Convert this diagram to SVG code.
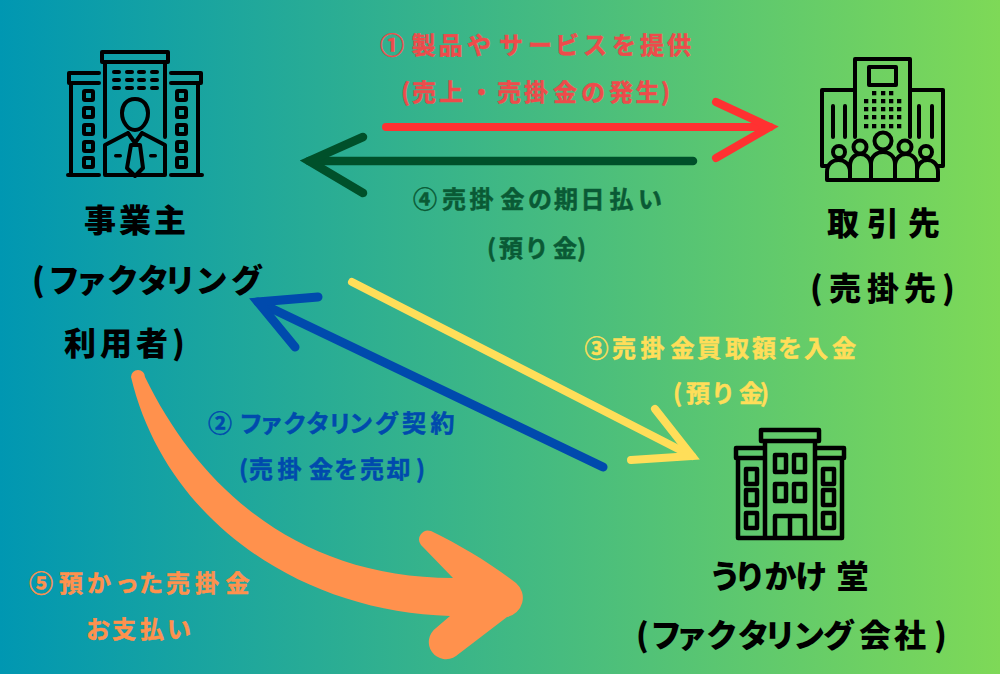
<svg xmlns="http://www.w3.org/2000/svg" width="1000" height="674" viewBox="0 0 1000 674">
<defs><linearGradient id="bg" x1="0" y1="0" x2="1" y2="0"><stop offset="0" stop-color="#0097b2"/><stop offset="1" stop-color="#7ed957"/></linearGradient></defs>
<style>
text{font-family:"Noto Sans CJK JP","Noto Sans CJK SC",sans-serif;font-weight:900}
.b{font-size:32px;fill:#000}
.l{font-size:24px;font-weight:700;stroke-width:.5px}
.r{fill:#ee4b4b;stroke:#ee4b4b}.g{fill:#0a5a35;stroke:#0a5a35}.y{fill:#ffde59;stroke:#ffde59}.u{fill:#004aad;stroke:#004aad}.o{fill:#ff914d;stroke:#ff914d}
.ar{fill:none;stroke-linecap:round;stroke-linejoin:miter;stroke-miterlimit:8}
.ic{fill:none;stroke:#000;stroke-width:4;stroke-linejoin:round;stroke-linecap:round}
.w{fill:none;stroke:#000;stroke-width:4;stroke-linejoin:round}
.t{stroke-width:4.500}
.f{fill:#000;stroke:none}
</style>
<rect width="1000" height="674" fill="url(#bg)"/>
<g id="connectors">
<g class="ar" stroke="#ff3131" stroke-width="8"><path d="M386 127H770"/><path d="M716 102L770 127L716 158"/></g>
<g class="ar" stroke="#00502a" stroke-width="8.500"><path d="M693 161H309"/><path d="M363 137L309 161L363 193"/></g>
<g class="ar" stroke="#ffde59" stroke-width="8"><path d="M352 282L692 456"/><path d="M655 409L692 456L631 460"/></g>
<g class="ar" stroke="#004aad" stroke-width="9"><path d="M603 467L258 302"/><path d="M318 297L258 302L295 347"/></g>
<path d="M131 377A7 7 0 0 1 145 377C200 490 300 578 453 578L421 545A9 9 0 0 1 431 531C460 545 490 563 516 583A19.500 19.500 0 0 1 507 617L456 656A17 17 0 0 1 436 628L450 616C300 612 165 520 131 377Z" fill="#ff914d"/>
</g>
<g id="jigyonushi">
<g class="ic">
<path d="M102 52H168V62H102ZM105 62V137M165 62V137M99 73H69V83H99M171 73H201V83H171M71 83V175M198 83V175M68 175H99M171 175H202"/>
<path d="M135 99C126 99 122 106 122 113C122 122 128 130 135 130C142 130 148 122 148 113C148 106 144 99 135 99ZM128 133L105 145V175H165V145L142 133M128 133L135 143L142 133M131 145H140L143 168L135 176L127 168Z"/>
</g>
<g class="f"><rect x="112" y="70" width="9" height="4" rx="2"/><rect x="125" y="70" width="9" height="4" rx="2"/><rect x="137" y="70" width="9" height="4" rx="2"/><rect x="150" y="70" width="9" height="4" rx="2"/><rect x="112" y="78" width="9" height="4" rx="2"/><rect x="125" y="78" width="9" height="4" rx="2"/><rect x="137" y="78" width="9" height="4" rx="2"/><rect x="150" y="78" width="9" height="4" rx="2"/><rect x="112" y="86" width="9" height="4" rx="2"/><rect x="125" y="86" width="9" height="4" rx="2"/><rect x="137" y="86" width="9" height="4" rx="2"/><rect x="150" y="86" width="9" height="4" rx="2"/><rect x="114" y="154" width="8" height="3.500" rx="1.700"/><rect x="149" y="154" width="8" height="3.500" rx="1.700"/></g>
<g class="w"><rect x="84" y="91" width="9" height="9" rx="1"/><rect x="84" y="108" width="9" height="9" rx="1"/><rect x="84" y="125" width="9" height="9" rx="1"/><rect x="84" y="142" width="9" height="9" rx="1"/><rect x="84" y="158" width="9" height="9" rx="1"/><rect x="177" y="91" width="9" height="9" rx="1"/><rect x="177" y="108" width="9" height="9" rx="1"/><rect x="177" y="125" width="9" height="9" rx="1"/><rect x="177" y="142" width="9" height="9" rx="1"/><rect x="177" y="158" width="9" height="9" rx="1"/></g>
<text class="b" x="84 119 154" y="232">事業主</text>
<text class="b" x="32 48 75.500 107 137.500 164 195.500 231" y="292">(ファクタリング</text>
<text class="b" x="64 100 136 172" y="355">利用者)</text>
</g>
<g id="torihikisaki">
<g class="ic"><path d="M855 137V59H910V137M855 90H822V166H827M910 90H943V166H938"/><rect x="869" y="67" width="27" height="18"/>
<path d="M833 106V137M845 106V137M919 106V137M932 106V137"/>
<path d="M827 180H938M827 180V172C827 156 850 156 850 172V180M850 180V166C850 150 871 150 871 166V180M871 180V164C871 148 895 148 895 164V180M895 180V166C895 150 917 150 917 166V180M917 180V172C917 156 938 156 938 172V180"/>
<circle cx="839" cy="152" r="6"/><circle cx="860" cy="147" r="6.500"/><circle cx="883" cy="141" r="8.500"/><circle cx="905" cy="147" r="6.500"/><circle cx="926" cy="152" r="6"/></g>
<g class="f"><rect x="872" y="91" width="4.300" height="4.300"/><rect x="881" y="91" width="4.300" height="4.300"/><rect x="889" y="91" width="4.300" height="4.300"/><rect x="864" y="99" width="4.300" height="4.300"/><rect x="872" y="99" width="4.300" height="4.300"/><rect x="881" y="99" width="4.300" height="4.300"/><rect x="889" y="99" width="4.300" height="4.300"/><rect x="897" y="99" width="4.300" height="4.300"/><rect x="864" y="107" width="4.300" height="4.300"/><rect x="872" y="107" width="4.300" height="4.300"/><rect x="881" y="107" width="4.300" height="4.300"/><rect x="889" y="107" width="4.300" height="4.300"/><rect x="897" y="107" width="4.300" height="4.300"/><rect x="864" y="115" width="4.300" height="4.300"/><rect x="872" y="115" width="4.300" height="4.300"/><rect x="881" y="115" width="4.300" height="4.300"/><rect x="889" y="115" width="4.300" height="4.300"/><rect x="897" y="115" width="4.300" height="4.300"/><rect x="864" y="124" width="4.300" height="4.300"/><rect x="872" y="124" width="4.300" height="4.300"/><rect x="881" y="124" width="4.300" height="4.300"/><rect x="889" y="124" width="4.300" height="4.300"/><rect x="897" y="124" width="4.300" height="4.300"/></g>
<text class="b" x="827 867 908" y="235">取引先</text>
<text class="b" x="810 829 867 904 942" y="300">(売掛先)</text>
</g>
<g id="urikakedo">
<g class="w t"><path d="M761 430H819V441H761ZM765 441V538M815 441V538M763 448H736V458H763M817 448H844V458H817M738 458V538H842V458"/>
<rect x="775" y="455" width="11" height="17"/><rect x="794" y="455" width="11" height="17"/><rect x="775" y="484" width="11" height="17"/><rect x="794" y="484" width="11" height="17"/><path d="M775 538V516H805V538M790 516V538"/>
<rect x="746" y="469" width="11" height="15"/><rect x="746" y="490" width="11" height="15"/><rect x="746" y="513" width="11" height="15"/><rect x="823" y="469" width="11" height="15"/><rect x="823" y="490" width="11" height="15"/><rect x="823" y="513" width="11" height="15"/></g>
<text class="b" x="709 734 764.500 795.500 836.500" y="588">うりかけ堂</text>
<text class="b" x="636 650 675.500 706 737.500 764 793 823 859 894 934" y="647">(ファクタリング会社)</text>
</g>
<g id="labels">
<text class="l r" x="380 411.500 438.500 467 499 528 555 583 612 640 667" y="54">①製品やサービスを提供</text>
<text class="l r" x="401 412 439 469.500 497 524 553 581 609 635.500 661" y="100.500">(売上・売掛金の発生)</text>
<text class="l g" x="413 442 469.500 500.500 528 554 580.500 609.500 638" y="208">④売掛金の期日払い</text>
<text class="l g" x="487 499 524.500 553 577" y="256.500">(預り金)</text>
<text class="l y" x="584.500 612 640.500 670.500 697 725 752 778 804 832" y="357">③売掛金買取額を入金</text>
<text class="l y" x="673 686 711 739 760" y="402">(預り金)</text>
<text class="l u" x="208 239 259.500 283 306 328 349 375 402 430.500" y="432">②ファクタリング契約</text>
<text class="l u" x="239 249 277.500 309 334 360 386.500 416" y="478">(売掛金を売却)</text>
<text class="l o" x="29 59 87 115 139 166 195 225.500" y="592">⑤預かった売掛金</text>
<text class="l o" x="86 112 140 167" y="638">お支払い</text>
</g>
</svg>
